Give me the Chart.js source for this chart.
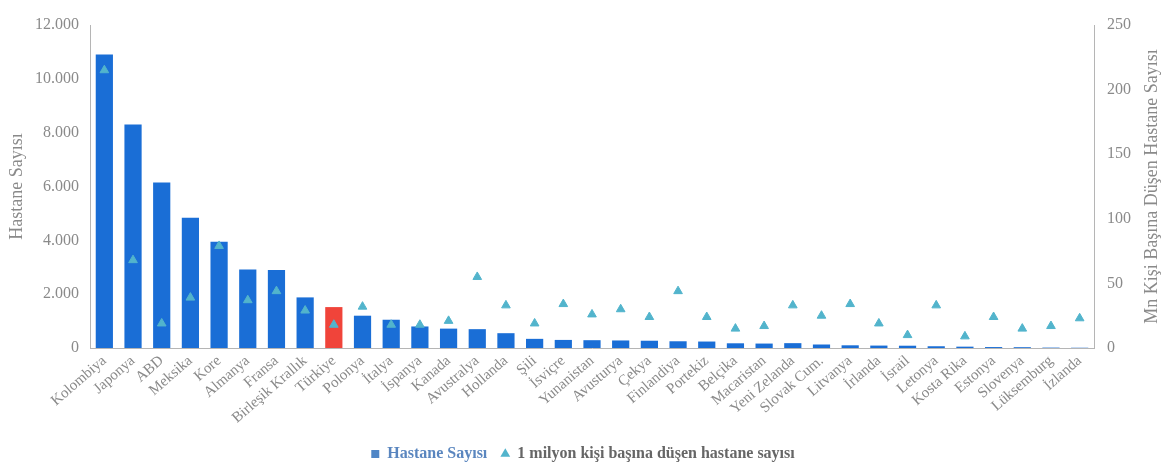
<!DOCTYPE html>
<html>
<head>
<meta charset="utf-8">
<script src="https://cdn.jsdelivr.net/npm/chart.js@4"></script>
<style>
  html, body { margin: 0; padding: 0; background: #fff; }
  #wrap { width: 1166px; height: 472px; }
</style>
</head>
<body>
<div id="wrap"><canvas id="hospitalChart"></canvas></div>
<script>
// ülkeler
const countries = ["Kolombiya", "Japonya", "ABD", "Meksika", "Kore", "Almanya", "Fransa", "Birleşik Krallık",
  "Türkiye", "Polonya", "İtalya", "İspanya", "Kanada", "Avustralya", "Hollanda", "Şili", "İsviçre",
  "Yunanistan", "Avusturya", "Çekya", "Finlandiya", "Portekiz", "Belçika", "Macaristan", "Yeni Zelanda",
  "Slovak Cum.", "Litvanya", "İrlanda", "İsrail", "Letonya", "Kosta Rika", "Estonya", "Slovenya",
  "Lüksemburg", "İzlanda"];

// hastane sayısı
const hospitals = [10900, 8300, 6150, 4840, 3950, 2920, 2900, 1880,
  1520, 1200, 1050, 800, 720, 700, 550, 340, 300,
  290, 280, 270, 250, 240, 175, 165, 180,
  130, 100, 90, 85, 65, 50, 35, 30,
  15, 10];

// 1 milyon kişi başına düşen hastane sayısı
const perMillion = [215, 68, 19, 39, 79, 37, 44, 29,
  18, 32, 18, 18, 21, 55, 33, 19, 34,
  26, 30, 24, 44, 24, 15, 17, 33,
  25, 34, 19, 10, 33, 9, 24, 15,
  17, 23];

const leftTicks = [0, 2000, 4000, 6000, 8000, 10000, 12000];
const rightTicks = [0, 50, 100, 150, 200, 250];

const FONT = "'Liberation Serif', 'Times New Roman', serif";
const GRAY = "#8a8a8a";
const BAR_BLUE = "#1a6ed6";
const TR_RED = "#f0443a";
const TRI = "#52b4cc";

const barColors = countries.map(c => c === "Türkiye" ? TR_RED : BAR_BLUE);

// sağ eksen başlığı aşağıdan yukarıya okunuyor
const rightTitle = {
  id: "rightTitle",
  afterDraw(chart) {
    const ctx = chart.ctx;
    const area = chart.chartArea;
    ctx.save();
    ctx.translate(1152, (area.top + area.bottom) / 2);
    ctx.rotate(-Math.PI / 2);
    ctx.font = "18px " + FONT;
    ctx.fillStyle = GRAY;
    ctx.textAlign = "center";
    ctx.textBaseline = "middle";
    ctx.fillText("Mn Kişi Başına Düşen Hastane Sayısı", 0, 0);
    ctx.restore();
  }
};

new Chart(document.getElementById("hospitalChart"), {
  type: "bar",
  data: {
    labels: countries,
    datasets: [{
      label: "Hastane Sayısı",
      data: hospitals,
      backgroundColor: barColors,
      barPercentage: 0.6,
      categoryPercentage: 1.0,
      yAxisID: "y",
      order: 2
    }, {
      type: "line",
      label: "1 milyon kişi başına düşen hastane sayısı",
      data: perMillion,
      showLine: false,
      pointStyle: "triangle",
      pointRadius: 5,
      pointBackgroundColor: TRI,
      pointBorderColor: TRI,
      backgroundColor: TRI,
      borderColor: TRI,
      yAxisID: "y1",
      order: 1
    }]
  },
  options: {
    responsive: true,
    maintainAspectRatio: false,
    animation: false,
    layout: { padding: { top: 25, bottom: 0 } },
    plugins: {
      tooltip: { enabled: false },
      legend: {
        position: "bottom",
        labels: {
          usePointStyle: true,
          boxWidth: 8,
          boxHeight: 8,
          padding: 14,
          font: { family: FONT, size: 16, weight: "bold" },
          sort: (a, b) => a.datasetIndex - b.datasetIndex,
          generateLabels(chart) {
            return chart.data.datasets.map((ds, i) => ({
              text: ds.label,
              datasetIndex: i,
              fillStyle: i === 0 ? "#4f86c6" : TRI,
              strokeStyle: i === 0 ? "#4f86c6" : TRI,
              lineWidth: 0,
              pointStyle: i === 0 ? "rect" : "triangle",
              fontColor: i === 0 ? "#5a86bf" : "#666"
            }));
          }
        }
      }
    },
    scales: {
      x: {
        grid: { display: false, drawTicks: false },
        border: { color: "#b5b5b5" },
        ticks: {
          color: GRAY,
          font: { family: FONT, size: 15 },
          maxRotation: 41,
          minRotation: 41,
          autoSkip: false,
          padding: 4
        },
        afterFit(axis) { axis.height = 84; }
      },
      y: {
        position: "left",
        min: 0,
        max: 12000,
        grid: { display: false, drawTicks: true, tickLength: 5, color: "#b5b5b5" },
        border: { color: "#b5b5b5" },
        afterBuildTicks(axis) { axis.ticks = leftTicks.map(v => ({ value: v })); },
        ticks: {
          color: GRAY,
          font: { family: FONT, size: 16 },
          padding: 6,
          callback: v => v.toLocaleString("de-DE")
        },
        title: {
          display: true,
          text: "Hastane Sayısı",
          color: GRAY,
          font: { family: FONT, size: 18 },
          padding: { top: 6, bottom: 0 }
        },
        afterFit(axis) { axis.width = 90; }
      },
      y1: {
        position: "right",
        min: 0,
        max: 250,
        grid: { display: false, drawTicks: true, tickLength: 5, color: "#b5b5b5" },
        border: { color: "#b5b5b5" },
        afterBuildTicks(axis) { axis.ticks = rightTicks.map(v => ({ value: v })); },
        ticks: {
          color: GRAY,
          font: { family: FONT, size: 16 },
          padding: 8
        },
        afterFit(axis) { axis.width = 72; }
      }
    }
  },
  plugins: [rightTitle]
});
</script>
</body>
</html>
